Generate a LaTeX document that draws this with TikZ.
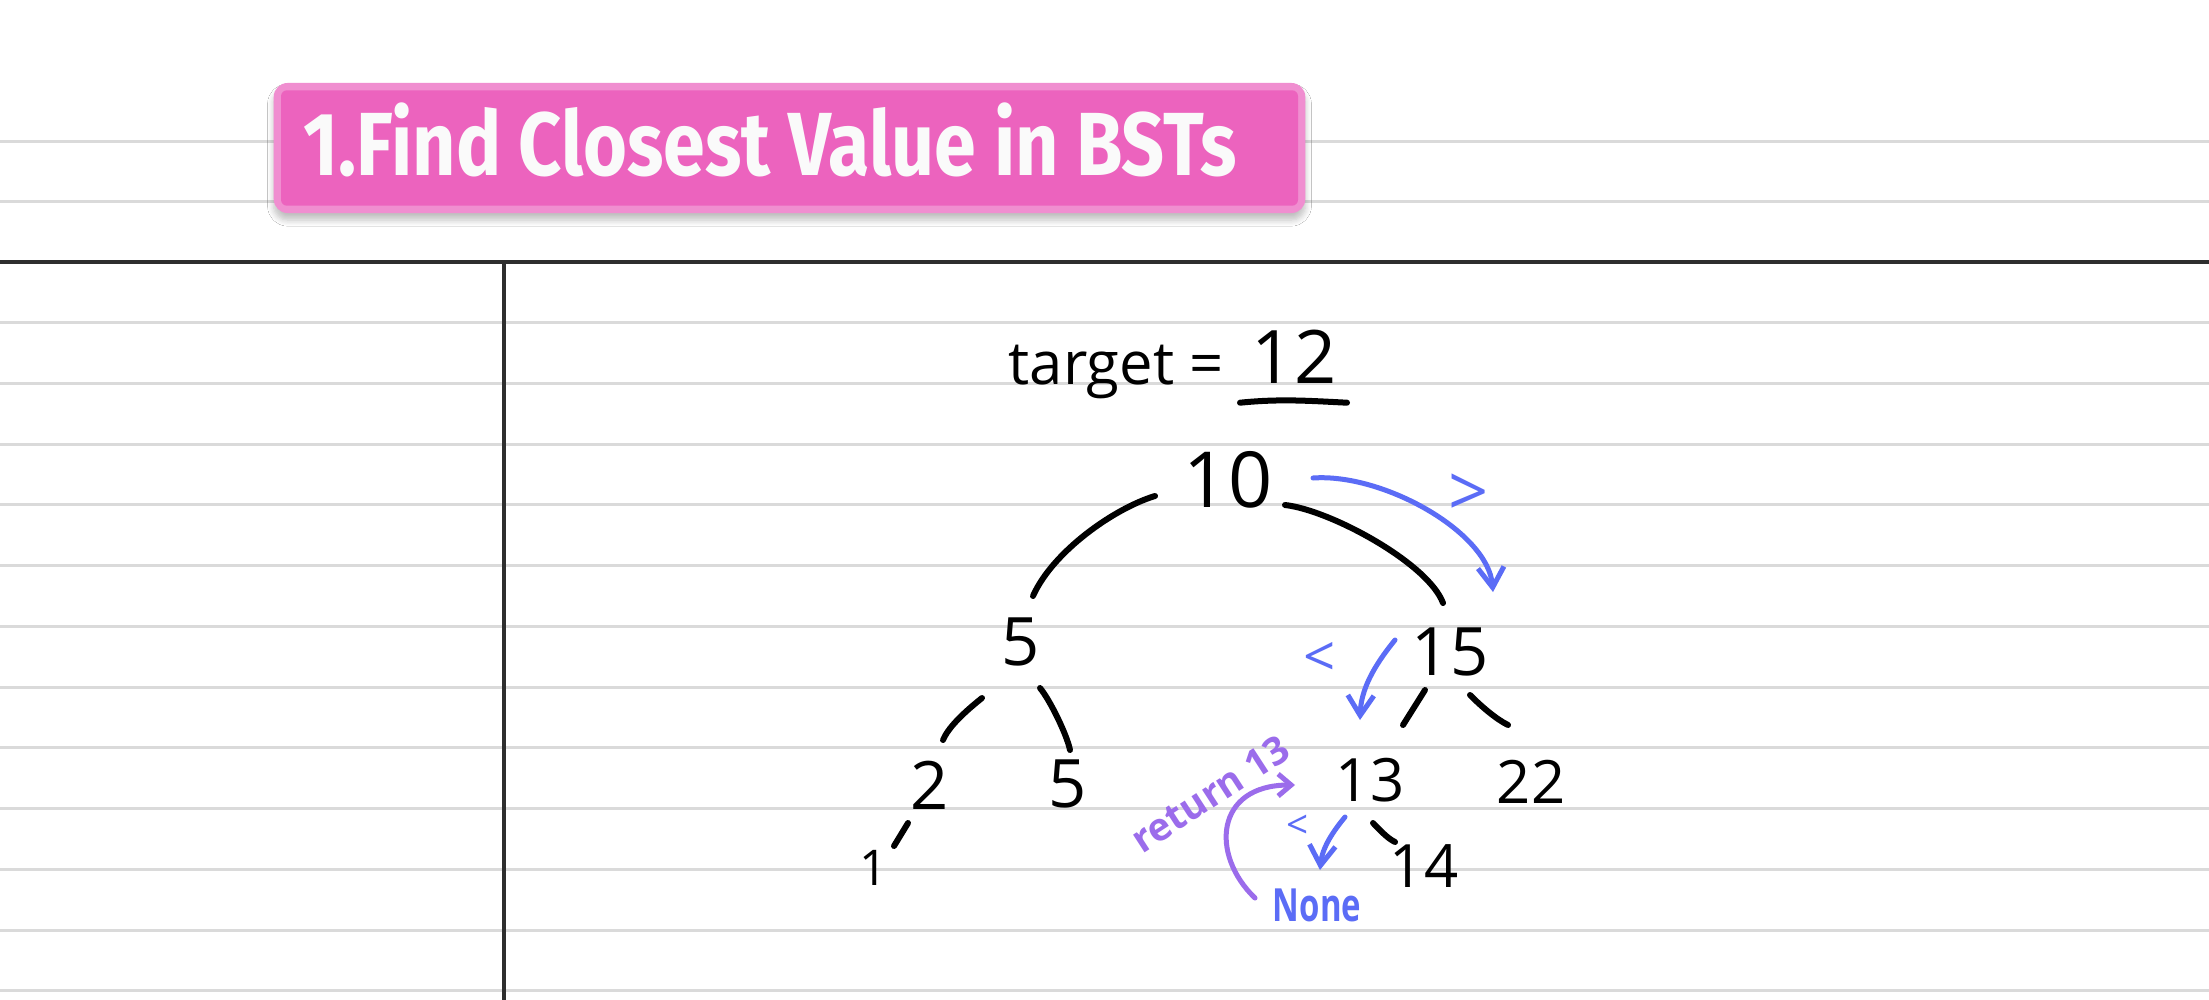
\documentclass[tikz,border=0pt]{standalone}
\usepackage{fontspec}
\usepackage{graphicx}
\usetikzlibrary{arrows.meta,shadows.blur}
\newfontfamily\titlefont[FakeStretch=0.84]{Fira Sans}
\newfontfamily\handfont{Open Sans}
\definecolor{rulegray}{HTML}{DADADA}
\definecolor{rulebk}{HTML}{2E2E2E}
\definecolor{pinkout}{HTML}{F08ED0}
\definecolor{pinkin}{HTML}{EC63BE}
\definecolor{penblue}{HTML}{5B6CF6}
\definecolor{penpurple}{HTML}{9B6CEB}
\tikzset{
  graylinestyle/.style={rulegray, line width=0.03cm},
  blacklinestyle/.style={rulebk, line width=0.035cm},
  num/.style={font=\handfont\fontsize{19}{22}\selectfont, inner sep=0pt, text=black},
  edge/.style={black, line width=0.06cm, line cap=round},
  bluearrow/.style={penblue, line width=0.05cm, line cap=round, line join=round,
     -{Straight Barb[length=0.2cm,width=0.26cm,line width=0.05cm]}},
  purplearrow/.style={penpurple, line width=0.05cm, line cap=round, line join=round,
     -{Straight Barb[length=0.13cm,width=0.22cm,line width=0.05cm]}},
  bluemark/.style={font=\handfont\bfseries, text=penblue, inner sep=0pt},
}
\begin{document}
\begin{tikzpicture}[x=0.01cm, y=-0.01cm]
\useasboundingbox (0,0) rectangle (2209,1000);
\fill[white] (0,0) rectangle (2209,1000);
% ruled paper
\foreach \yy in {141,201.5} \draw[graylinestyle] (0,\yy) -- (2209,\yy);
\foreach \k in {0,...,11} \draw[graylinestyle] (0,322.5+60.75*\k) -- (2209,322.5+60.75*\k);
\draw[blacklinestyle] (0,262) -- (2209,262);
\draw[blacklinestyle] (504,262) -- (504,1000);
% title box
\node[fill=pinkout, rounded corners=0.14cm, minimum width=10.31cm, minimum height=1.30cm,
      inner sep=0pt, blur shadow={shadow xshift=0pt, shadow yshift=-0.07cm, shadow blur steps=6, shadow opacity=25}]
      (titlebox) at (789.5,148) {};
\fill[pinkin, rounded corners=0.06cm] ([shift={(8,8)}]titlebox.north west) rectangle ([shift={(-8,-8)}]titlebox.south east);
\node[anchor=base west, inner sep=0pt, text={white!98!black}, font=\titlefont\bfseries\fontsize{25.5}{30}\selectfont]
      (title) at (303,175) {1.Find Closest Value in BSTs};
% target
\node[num, anchor=base west, font=\handfont\fontsize{17}{20}\selectfont] (tgt) at (1008,384) {target =};
\node[num, anchor=base, font=\handfont\fontsize{21}{24}\selectfont] (tval) at (1294,383) {12};
\draw[edge] ([shift={(-54,19)}]tval.south) .. controls +(40,-4) and +(-40,-2) .. ([shift={(53,19)}]tval.south);
% tree nodes
\node[num, font=\handfont\fontsize{22}{26}\selectfont] (n10) at (1228,480) {10};
\node[num] (n5) at (1021,642) {5};
\node[num] (n15) at (1450,652) {15};
\node[num] (n2) at (930,785) {2};
\node[num] (n5b) at (1068,784) {5};
\node[num, font=\handfont\fontsize{14}{16}\selectfont] (n1) at (874,868) {1};
\node[num, font=\handfont\fontsize{17}{20}\selectfont] (n13) at (1370,780) {13};
\node[num, font=\handfont\fontsize{17}{20}\selectfont] (n22) at (1531,782) {22};
\node[num, font=\handfont\fontsize{17}{20}\selectfont] (n14) at (1424,866) {14};
% tree edges
\draw[edge] ([shift={(-73,16)}]n10.center) .. controls +(-40,12) and +(20,-45) .. ([shift={(12,-46)}]n5.center);
\draw[edge] ([shift={(57,25)}]n10.center) .. controls +(45,5) and +(-15,-40) .. ([shift={(-7,-49)}]n15.center);
\draw[edge] ([shift={(-39,56)}]n5.center) .. controls +(-20,16) and +(5,-12) .. ([shift={(13,-45)}]n2.center);
\draw[edge] ([shift={(19,46)}]n5.center) .. controls +(10,12) and +(-3,-15) .. ([shift={(2,-34)}]n5b.center);
\draw[edge] ([shift={(-22,38)}]n2.center) -- ([shift={(20,-22)}]n1.center);
\draw[edge] ([shift={(-25,38)}]n15.center) -- ([shift={(33,-55)}]n13.center);
\draw[edge] ([shift={(20,43)}]n15.center) .. controls +(12,12) and +(-12,-6) .. ([shift={(-23,-57)}]n22.center);
\draw[edge] ([shift={(3,43)}]n13.center) .. controls +(8,8) and +(-8,-4) .. ([shift={(-29,-24)}]n14.center);
% blue search arrows
\draw[bluearrow] ([shift={(85,-2)}]n10.center) .. controls +(70,-5) and +(-5,-60) .. ([shift={(43,-60)}]n15.center);
\node[bluemark, font=\handfont\fontsize{20}{22}\selectfont] (gt) at (1469,495) {>};
\draw[bluearrow] ([shift={(-55,-12)}]n15.center) .. controls +(-22,27) and +(1,-30) .. ([shift={(-10,-60)}]n13.center);
\node[bluemark, font=\handfont\fontsize{16}{18}\selectfont] (lt1) at (1320,659) {<};
\node[bluemark, font=\handfont\bfseries\fontsize{13}{15}\selectfont] (nNone) at (1317,905) {\scalebox{0.72}[1]{None}};
\draw[bluearrow] ([shift={(-25,37)}]n13.center) .. controls +(-15,18) and +(2,-20) .. ([shift={(3,-35)}]nNone.center);
\node[bluemark, font=\handfont\fontsize{11}{13}\selectfont] (lt2) at (1298,827) {<};
% purple return arrow
\draw[purplearrow] ([shift={(-62,-7)}]nNone.center) .. controls +(-45,-43) and +(-80,0) .. ([shift={(-75,5)}]n13.center);
\node[rotate=33, font=\handfont\bfseries\fontsize{11}{13}\selectfont, text=penpurple, inner sep=0pt]
      (ret) at (1210,794) {return 13};
\end{tikzpicture}
\end{document}
